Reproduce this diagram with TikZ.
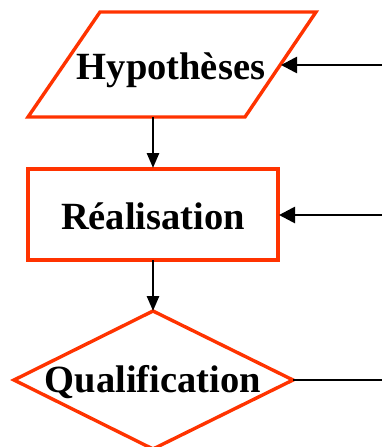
\documentclass[tikz,border=0pt]{standalone}
\usepackage{fontspec}
\setmainfont{Liberation Serif}
\usetikzlibrary{arrows.meta}
\definecolor{flowred}{RGB}{255,51,0}
\begin{document}
\begin{tikzpicture}[x=1pt,y=-1pt,
  outline/.style={draw=flowred,line width=3.4pt,line join=miter,fill=white},
  label/.style={font=\fontsize{38.5}{42}\selectfont\bfseries,anchor=base,inner sep=0pt},
  flow/.style={line width=2.7pt,-{Triangle[length=15pt,width=12pt]}},
  feed/.style={line width=2.7pt,-{Triangle[length=16pt,width=16pt]}},
  plain/.style={line width=2.7pt}]
\useasboundingbox (0,0) rectangle (382,447);

% input parallelogram
\draw[outline] (100,12) -- (316,12) -- (245,117) -- (28,117) -- cycle;
\node[label] (hyp) at (171,79) {Hypothèses};
\coordinate (hypIn) at (281,65);
\coordinate (hypOut) at (153,117);

% process box
\draw[outline] (28,169) rectangle (278,260);
\node[label] (rea) at (153,229) {Réalisation};
\coordinate (reaTop) at (153,168);
\coordinate (reaIn) at (279,215);
\coordinate (reaOut) at (153,260);

% decision diamond
\draw[outline] (153,311) -- (293,380) -- (153,449) -- (14,380) -- cycle;
\node[label] (qual) at (153,392) {Qualification};
\coordinate (qualTop) at (153,311);
\coordinate (qualRight) at (293,380);

% feedback lines entering from the right
\coordinate (fb1) at (382,65);
\coordinate (fb2) at (382,215);
\coordinate (fb3) at (382,380);

% connectors
\draw[flow] (hypOut) -- (reaTop);
\draw[flow] (reaOut) -- (qualTop);
\draw[feed] (fb1) -- (hypIn);
\draw[feed] (fb2) -- (reaIn);
\draw[plain] (qualRight) -- (fb3);
\end{tikzpicture}
\end{document}
